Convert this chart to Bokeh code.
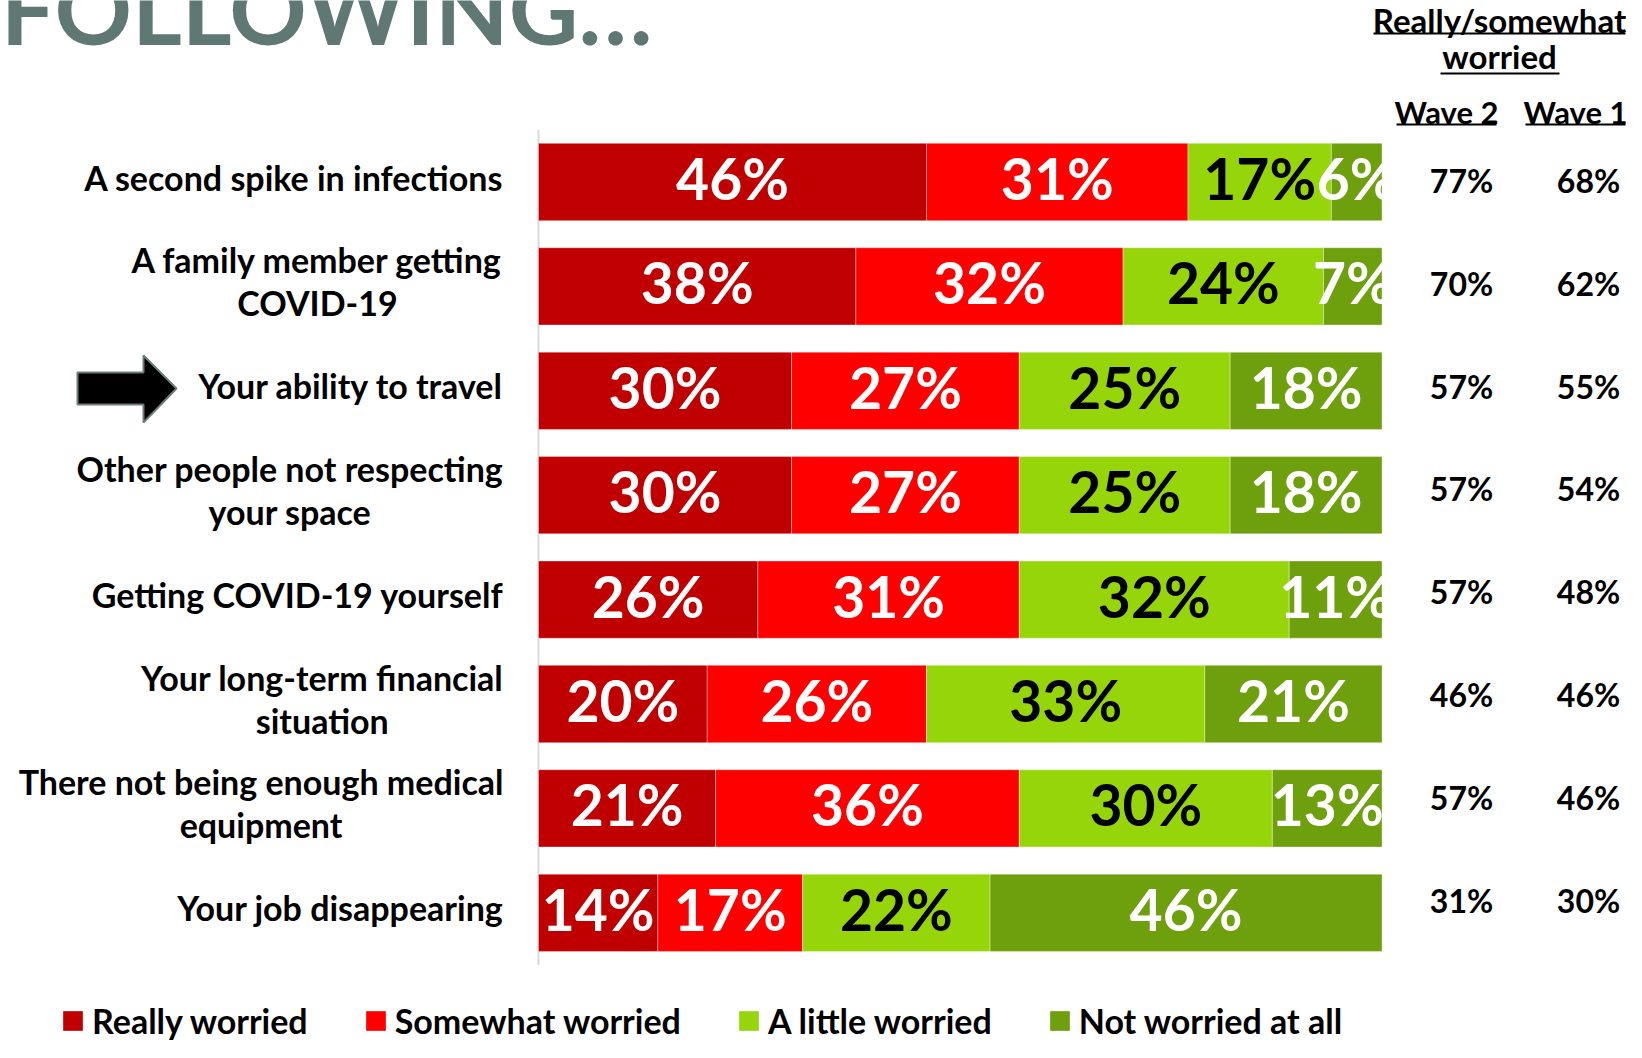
import numpy as np
from bokeh.plotting import figure
from bokeh.models import ColumnDataSource, Range1d, Legend, LegendItem
from bokeh.core.properties import value
from bokeh.embed import file_html
from bokeh.resources import INLINE

# ---------------- data ----------------
items = [
    "A second spike in infections",
    "A family member getting\nCOVID-19",
    "Your ability to travel",
    "Other people not respecting\nyour space",
    "Getting COVID-19 yourself",
    "Your long-term financial\nsituation",
    "There not being enough medical\nequipment",
    "Your job disappearing",
]
series_names = ["Really worried", "Somewhat worried", "A little worried", "Not worried at all"]
really = [46, 38, 30, 30, 26, 20, 21, 14]
somewhat = [31, 32, 27, 27, 31, 26, 36, 17]
little = [17, 24, 25, 25, 32, 33, 30, 22]
not_at_all = [6, 7, 18, 18, 11, 21, 13, 46]
wave2 = [77, 70, 57, 57, 57, 46, 57, 31]
wave1 = [68, 62, 55, 54, 48, 46, 46, 30]
title_text = "FOLLOWING\u2026"
header_lines = ["Really/somewhat", "worried"]
wave_headers = ["Wave 2", "Wave 1"]

# ---------------- styling ----------------
colors = ["#C00000", "#FF0000", "#96D50A", "#6E9F0C"]
label_colors = ["white", "white", "black", "white"]
FONT = "Lato"
W, H = 1626, 1042
X0, X100 = 538.0, 1381.5       # screen px of 0% and 100%
PXX = (X100 - X0) / 100.0
ROW0, PXY = 181.5, 104.4        # screen px of first row centre, row pitch
n = len(items)


def dx(px):
    return (px - X0) / PXX


def dy(py):
    return (n - 1) - (py - ROW0) / PXY


p = figure(width=W, height=H, output_backend="svg", toolbar_location=None,
           x_range=Range1d(dx(0), dx(W)),
           y_range=Range1d(dy(H), dy(0)),
           x_axis_type=None, y_axis_type=None, min_border=0)
p.outline_line_color = None
p.xgrid.visible = False
p.ygrid.visible = False
p.background_fill_color = "white"

ys = [n - 1 - i for i in range(n)]
data = np.array([really, somewhat, little, not_at_all], dtype=float)
norm = data / data.sum(axis=0) * 100.0
stack_cols = ["s0", "s1", "s2", "s3"]
src = ColumnDataSource(dict(y=ys, **{c: norm[k] for k, c in enumerate(stack_cols)}))

# vertical axis line
p.segment(x0=[0], y0=[-0.5], x1=[0], y1=[n - 0.5], line_color="#d9d9d9", line_width=2)

renderers = p.hbar_stack(stack_cols, y="y", height=0.74, source=src,
                         fill_color=colors, line_color="white", line_alpha=0.35, line_width=1)

# segment labels
left = np.zeros(n)
for k in range(4):
    centers = left + norm[k] / 2.0
    texts = [f"{int(v)}%" for v in data[k]]
    p.text(x=list(centers), y=ys, text=texts, text_color=label_colors[k],
           text_font=value(FONT), text_font_style="bold", text_font_size="57px",
           text_align="center", text_baseline="middle", y_offset=-4)
    left = left + norm[k]

# category labels
p.text(x=[dx(503)] * n, y=ys, text=items, anchor="center_right", text_align="center",
       text_baseline="middle", text_font=value(FONT), text_font_style="bold",
       text_font_size="34px", text_line_height=1.05, text_color="black", y_offset=-5)

# arrow pointing at "Your ability to travel"
ax_px = [77, 143, 143, 176, 143, 143, 77]
ay_px = [372, 372, 355, 388, 422, 404, 404]
p.patch([dx(v) for v in ax_px], [dy(v) for v in ay_px], fill_color="black",
        line_color="#6b7d7a", line_width=2)

# right hand columns
wy = [dy(180 + i * 102.8) for i in range(n)]
p.text(x=[dx(1461)] * n, y=wy, text=[f"{v}%" for v in wave2], text_align="center",
       text_baseline="middle", text_font=value(FONT), text_font_style="bold",
       text_font_size="32px", text_color="black")
p.text(x=[dx(1588)] * n, y=wy, text=[f"{v}%" for v in wave1], text_align="center",
       text_baseline="middle", text_font=value(FONT), text_font_style="bold",
       text_font_size="32px", text_color="black")

p.text(x=[dx(1499), dx(1499)], y=[dy(19), dy(55)], text=header_lines, text_align="center",
       text_baseline="middle", text_font=value(FONT), text_font_style="bold",
       text_font_size="33px", text_color="black")
p.text(x=[dx(1446), dx(1575)], y=[dy(111), dy(111)], text=wave_headers, text_align="center",
       text_baseline="middle", text_font=value(FONT), text_font_style="bold",
       text_font_size="31px", text_color="black")
# underlines
p.segment(x0=[dx(1373), dx(1440), dx(1396), dx(1525)],
          y0=[dy(33), dy(73), dy(124), dy(124)],
          x1=[dx(1625), dx(1559), dx(1496), dx(1625)],
          y1=[dy(33), dy(73), dy(124), dy(124)], line_color="black", line_width=2)

# title (partially cut off at the top)
p.text(x=[dx(652)], y=[dy(7)], text=[title_text], text_align="right",
       text_baseline="alphabetic", text_font=value(FONT), text_font_style="bold",
       text_font_size="96px", text_color="#5F7874")

legend = Legend(items=[LegendItem(label=series_names[k], renderers=[renderers[k]]) for k in range(4)],
                orientation="horizontal", location=(60, 1),
                glyph_width=25, glyph_height=25, label_standoff=7, spacing=55,
                padding=0, margin=0, border_line_alpha=0, background_fill_alpha=0,
                label_text_font=FONT, label_text_font_style="bold",
                label_text_font_size="34px", label_text_color="black")
p.add_layout(legend)

open("out.html", "w").write(file_html(p, INLINE))
